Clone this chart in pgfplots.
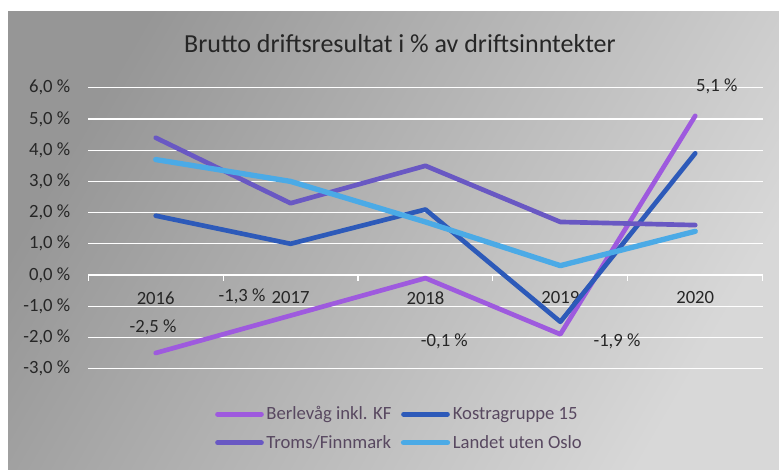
\documentclass[border=0pt]{standalone}
\usepackage{fontspec}
\setmainfont{Carlito}
\usepackage{pgfplots}
\pgfplotsset{compat=1.18}
\definecolor{berl}{RGB}{158,90,222}
\definecolor{kostra}{RGB}{45,90,185}
\definecolor{troms}{RGB}{105,88,195}
\definecolor{landet}{RGB}{75,170,230}
\definecolor{bgUL}{RGB}{150,150,150}
\definecolor{bgLR}{RGB}{216,216,216}
\definecolor{labtext}{RGB}{38,38,38}
\definecolor{legtext}{RGB}{88,72,96}
\begin{document}
\begin{tikzpicture}
\useasboundingbox (0,0) rectangle (584.25pt,352.5pt);
\shade[top color=bgUL, bottom color=bgLR, shading angle=60]
  (6pt,0pt) rectangle (584.25pt,343.5pt);
\node[font=\fontsize{19.5}{22}\selectfont, text=labtext] at (300pt,319.5pt)
  {Brutto driftsresultat i \% av driftsinntekter};
\begin{axis}[
  at={(66.2pt,76.05pt)}, anchor=south west,
  scale only axis, width=505.8pt, height=210.6pt,
  xmin=-0.5, xmax=4.5, ymin=-3, ymax=6,
  clip=false,
  axis x line=middle, axis y line=left,
  x axis line style={-, white, line width=1pt},
  y axis line style={draw=none},
  hide obscured y ticks=false,
  hide obscured x ticks=false,
  xtick={0,...,4},
  xticklabels={2016,2017,2018,2019,2020},
  minor xtick={-0.5,0.5,...,4.5},
  major tick length=0pt,
  minor tick length=4.5pt,
  tick align=outside,
  minor x tick style={white, line width=0.8pt},
  ytick={-3,...,6},
  yticklabels={{-3,0 \%},{-2,0 \%},{-1,0 \%},{0,0 \%},{1,0 \%},{2,0 \%},{3,0 \%},{4,0 \%},{5,0 \%},{6,0 \%}},
  ytick style={draw=none},
  ymajorgrids,
  grid style={white, line width=1pt},
  xticklabel style={font=\fontsize{14}{16}\selectfont, text=labtext, yshift=-9pt},
  yticklabel style={font=\fontsize{14}{16}\selectfont, text=labtext, xshift=-10pt},
  legend columns=2,
  legend cell align=left,
  legend style={at={(0.462,-0.213)}, anchor=center, draw=none, fill=none,
    font=\fontsize{14}{16}\selectfont, text=legtext,
    /tikz/every even column/.append style={column sep=5pt},
    row sep=6pt},
  legend image code/.code={\draw[#1] (0pt,0pt) -- (33pt,0pt);},
  every axis plot/.append style={line join=round, line cap=round},
]
\addplot[berl, line width=3.5pt] coordinates {(0,-2.5) (1,-1.3) (2,-0.1) (3,-1.9) (4,5.1)};
\addlegendentry{Berlevåg inkl. KF}
\addplot[kostra, line width=3.5pt] coordinates {(0,1.9) (1,1.0) (2,2.1) (3,-1.5) (4,3.9)};
\addlegendentry{Kostragruppe 15}
\addplot[troms, line width=3.5pt] coordinates {(0,4.4) (1,2.3) (2,3.5) (3,1.7) (4,1.6)};
\addlegendentry{Troms/Finnmark}
\addplot[landet, line width=4pt] coordinates {(0,3.7) (1,3.0) (2,1.7) (3,0.3) (4,1.4)};
\addlegendentry{Landet uten Oslo}
\begin{scope}[every node/.style={font=\fontsize{14}{16}\selectfont, text=labtext}]
\node at (axis cs:-0.02,-1.67) {-2,5 \%};
\node at (axis cs:0.64,-0.67) {-1,3 \%};
\node at (axis cs:2.14,-2.12) {-0,1 \%};
\node at (axis cs:3.42,-2.12) {-1,9 \%};
\node at (axis cs:4.16,6.06) {5,1 \%};
\end{scope}
\end{axis}
\end{tikzpicture}
\end{document}
